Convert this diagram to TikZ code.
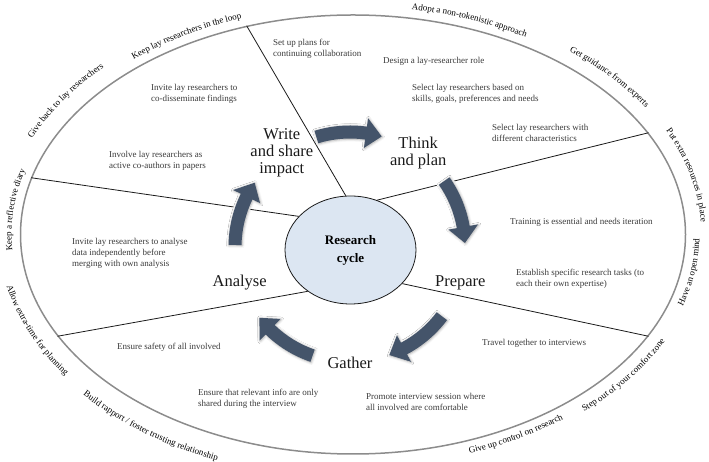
\documentclass[tikz,border=0pt]{standalone}
\usepackage{fontspec}
\setmainfont{Liberation Serif}
\usepackage{tikz}
\usetikzlibrary{shapes.geometric,calc,decorations.text,shadows.blur}
\definecolor{ink}{HTML}{1A1A1A}
\definecolor{note}{HTML}{3A3A3A}
\definecolor{rimgrey}{HTML}{8C8C8C}
\definecolor{slate}{HTML}{44546A}
\definecolor{hubfill}{HTML}{DCE6F2}
\newcommand\rimfont{\fontsize{9}{11}\selectfont}
% curved label round the rim: start angle, end angle, offset, text
\newcommand\rimtext[4]{\path[rimdeco={#4}] (353,227.5) ++(#1:332.5+#3 and 219.5+#3) arc[start angle=#1,end angle=#2,x radius=332.5+#3,y radius=219.5+#3];}
% block arrow of the cycle: tail angle, tip angle
\newcommand\cyclearrow[2]{\fill[flow] (hub) ++(#1:121.5) arc[start angle=#1,end angle=#2+8,radius=121.5] -- ($(hub)+(#2+8:130)$) -- ($(hub)+(#2:115)$) -- ($(hub)+(#2+8:100)$) -- ($(hub)+(#2+8:108.5)$) arc[start angle=#2+8,end angle=#1,radius=108.5] -- cycle;}

\begin{document}
\begin{tikzpicture}[x=1pt,y=1pt]
\tikzset{rimshape/.style={ellipse,draw=rimgrey,line width=1.5pt,minimum width=665pt,minimum height=439pt,inner sep=0pt},hubnode/.style={ellipse,draw=ink,fill=hubfill,line width=0.8pt,minimum width=131pt,minimum height=108pt,inner sep=0pt,align=center,font=\fontsize{13}{18}\selectfont\bfseries},stage/.style={font=\fontsize{16.5}{17}\selectfont,align=center,text=ink},hint/.style={font=\fontsize{9}{11}\selectfont,text=note,align=left,anchor=north west,inner sep=0pt},divider/.style={draw=ink,line width=0.8pt},flow/.style={fill=slate,preaction={draw=white,line width=4pt},blur shadow={shadow xshift=0.6pt,shadow yshift=-0.6pt,shadow blur radius=2.5pt,shadow opacity=35}},rimdeco/.style={decorate,decoration={text along path,text align=center,text={|\rimfont|#1}}}}
\useasboundingbox (0,0) rectangle (709,462);
\node[rimshape] (rim) at (353,227.5) {};
\node[hubnode] (cycle) at (350.5,212) {Research\\cycle};
\coordinate (hub) at (350,215);
% spokes
\draw[divider] (cycle.95.8) -- (rim.117.3);
\draw[divider] (cycle.62.1) -- (rim.19);
\draw[divider] (cycle.147.1) -- (rim.170.7);
\draw[divider] (cycle.224) -- (rim.199.6);
\draw[divider] (cycle.327.8) -- (rim.341.2);
% cycle arrows
\cyclearrow{107}{74}
\cyclearrow{35}{2}
\cyclearrow{-37}{-70}
\cyclearrow{-109}{-142}
\cyclearrow{179}{146}
% stages
\node[stage] (write) at ($(hub)+(126:116)$) {Write\\and share\\impact};
\node[stage] (think) at ($(hub)+(54:116)$) {Think\\and plan};
\node[stage] (prepare) at ($(hub)+(-18:116)$) {Prepare};
\node[stage] (gather) at ($(hub)+(-90:116)$) {Gather};
\node[stage] (analyse) at ($(hub)+(198:116)$) {Analyse};
% notes
\node[hint] (setup) at (273,423.3) {Set up plans for\\continuing collaboration};
\node[hint] (design) at (383,405.3) {Design a lay-researcher role};
\node[hint] (select) at (412,378.3) {Select lay researchers based on\\skills, goals, preferences and needs};
\node[hint] (mix) at (492,338.3) {Select lay researchers with\\different characteristics};
\node[hint] (codis) at (151,378.3) {Invite lay researchers to\\co-disseminate findings};
\node[hint] (coauth) at (109,311.3) {Involve lay researchers as\\active co-authors in papers};
\node[hint] (indep) at (72,224.3) {Invite lay researchers to analyse\\data independently before\\merging with own analysis};
\node[hint] (training) at (510,244.3) {Training is essential and needs iteration};
\node[hint] (tasks) at (516,193.3) {Establish specific research tasks (to\\each their own expertise)};
\node[hint] (safety) at (117,119.3) {Ensure safety of all involved};
\node[hint] (info) at (198,73.3) {Ensure that relevant info are only\\shared during the interview};
\node[hint] (travel) at (482,123.3) {Travel together to interviews};
\node[hint] (comfort) at (366,69.3) {Promote interview session where\\all involved are comfortable};
% rim labels
\rimtext{138}{102}{9}{Keep lay researchers in the loop}
\rimtext{87.5}{51.5}{9}{Adopt a non-tokenistic approach}
\rimtext{57.5}{25.5}{15}{Get guidance from experts}
\rimtext{34}{-6}{16}{Put extra resources in place}
\rimtext{-24.2}{5.8}{14}{Have an open mind}
\rimtext{-55}{-19}{17}{Step out of your comfort zone}
\rimtext{-77}{-45}{13}{Give up control on research}
\rimtext{211.5}{255.5}{25}{Build rapport / foster trusting relationship}
\rimtext{185.5}{221.5}{22}{Allow extra-time for planning}
\rimtext{190}{158}{9}{Keep a reflective diary}
\rimtext{164.5}{128.5}{18}{Give back to lay researchers}
\end{tikzpicture}
\end{document}
